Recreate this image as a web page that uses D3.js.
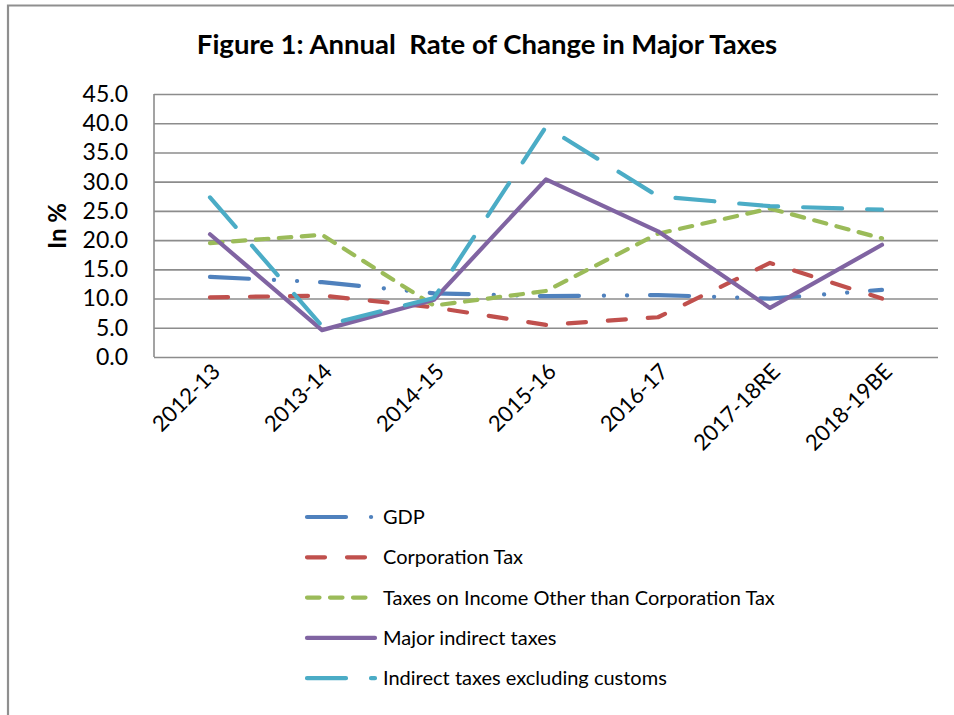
<!DOCTYPE html>
<html>
<head>
<meta charset="utf-8">
<script src="https://cdn.jsdelivr.net/npm/d3@7/dist/d3.min.js"></script>
<style>
  body { margin: 0; background: #fff; }
  svg { display: block; font-family: Lato, "Open Sans", sans-serif; }
</style>
</head>
<body>
<svg id="chart" width="954" height="715"></svg>
<script>
// --- chart data ---
const years = ["2012-13", "2013-14", "2014-15", "2015-16", "2016-17", "2017-18RE", "2018-19BE"];
const gdp = [13.7, 12.8, 10.9, 10.4, 10.6, 10.0, 11.5];
const corporationTax = [10.2, 10.5, 8.5, 5.5, 6.8, 16.1, 10.0];
const incomeTaxOther = [19.5, 20.9, 8.8, 11.3, 21.1, 25.4, 20.3];
const majorIndirect = [21.0, 4.6, 9.8, 30.4, 21.5, 8.4, 19.2];
const indirectExCustoms = [27.3, 5.3, 10.1, 39.4, 27.5, 25.8, 25.2];
const seriesNames = ["GDP", "Corporation Tax", "Taxes on Income Other than Corporation Tax",
                     "Major indirect taxes", "Indirect taxes excluding customs"];
const yTicks = [0, 5, 10, 15, 20, 25, 30, 35, 40, 45];

// line look for each series (Excel style dashes)
const looks = [
    { color: "#4f81bd", dash: "39 25 0.1 23 0.1 23" },  // long dash dot dot
    { color: "#c0504d", dash: "18 22" },               // dash
    { color: "#9bbb59", dash: "12.5 10.5" },           // short dash
    { color: "#8064a2", dash: null },                  // solid
    { color: "#4bacc6", dash: "39 25" }                // long dash
];
const seriesValues = [gdp, corporationTax, incomeTaxOther, majorIndirect, indirectExCustoms];

const svg = d3.select("#chart");
const W = 954, H = 715;
const plot = { left: 154, right: 938, top: 94, bottom: 357 };
const gridColor = "#8c8c8c";

// outer frame of the chart (left + top edges only visible)
svg.append("path")
    .attr("d", `M8,${H} V5.5 H${W}`)
    .attr("fill", "none")
    .attr("stroke", "#8f8f8f")
    .attr("stroke-width", 2.2);

// title
svg.append("text")
    .attr("x", 487)
    .attr("y", 54)
    .attr("text-anchor", "middle")
    .attr("font-weight", "bold")
    .attr("font-size", 27.5)
    .attr("xml:space", "preserve")
    .text("Figure 1: Annual  Rate of Change in Major Taxes");

const x = d3.scalePoint().domain(years).range([plot.left, plot.right]).padding(0.5);
const y = d3.scaleLinear().domain([0, 45]).range([plot.bottom, plot.top]);

// y axis with gridlines
const yAxis = svg.append("g")
    .attr("transform", `translate(${plot.left},0)`)
    .call(d3.axisLeft(y)
        .tickValues(yTicks)
        .tickFormat(d3.format(".1f"))
        .tickSize(-(plot.right - plot.left))
        .tickPadding(26));
yAxis.select(".domain").remove();
yAxis.selectAll(".tick line").attr("stroke", gridColor).attr("stroke-width", 1.6);
yAxis.selectAll(".tick text")
    .attr("fill", "#000")
    .attr("font-size", 23)
    .attr("font-family", "Lato, sans-serif");

// left border of plot area
svg.append("line")
    .attr("x1", plot.left).attr("x2", plot.left)
    .attr("y1", plot.top).attr("y2", plot.bottom)
    .attr("stroke", gridColor)
    .attr("stroke-width", 1.6);

// x axis, rotated labels
const xAxis = svg.append("g")
    .attr("transform", `translate(0,${plot.bottom})`)
    .call(d3.axisBottom(x).tickSize(0).tickPadding(0));
xAxis.select(".domain").remove();
xAxis.selectAll(".tick text")
    .attr("fill", "#000")
    .attr("font-size", 22)
    .attr("font-family", "Lato, sans-serif")
    .attr("text-anchor", "end")
    .attr("dy", 0)
    .attr("y", 0)
    .attr("transform", "translate(11,16) rotate(-45)");

// y axis title
svg.append("text")
    .attr("transform", "translate(66,226) rotate(-90)")
    .attr("text-anchor", "middle")
    .attr("font-weight", "bold")
    .attr("font-size", 24)
    .text("In %");

// series lines
const line = d3.line()
    .x((d, i) => x(years[i]))
    .y(d => y(d));

svg.append("g")
    .selectAll("path")
    .data(seriesValues)
    .join("path")
    .attr("d", line)
    .attr("fill", "none")
    .attr("stroke", (d, i) => looks[i].color)
    .attr("stroke-width", 4.2)
    .attr("stroke-linecap", "round")
    .attr("stroke-linejoin", "round")
    .attr("stroke-dasharray", (d, i) => looks[i].dash);

// legend
const legend = svg.append("g");
const rows = legend.selectAll("g")
    .data(seriesNames)
    .join("g")
    .attr("transform", (d, i) => `translate(0,${517 + i * 40.3})`);

rows.append("line")
    .attr("x1", 307).attr("x2", 375)
    .attr("stroke", (d, i) => looks[i].color)
    .attr("stroke-width", 4.2)
    .attr("stroke-linecap", "round")
    .attr("stroke-dasharray", (d, i) => looks[i].dash);

rows.append("text")
    .attr("x", 383)
    .attr("dy", "0.35em")
    .attr("font-size", 20)
    .text(d => d);
</script>
</body>
</html>
